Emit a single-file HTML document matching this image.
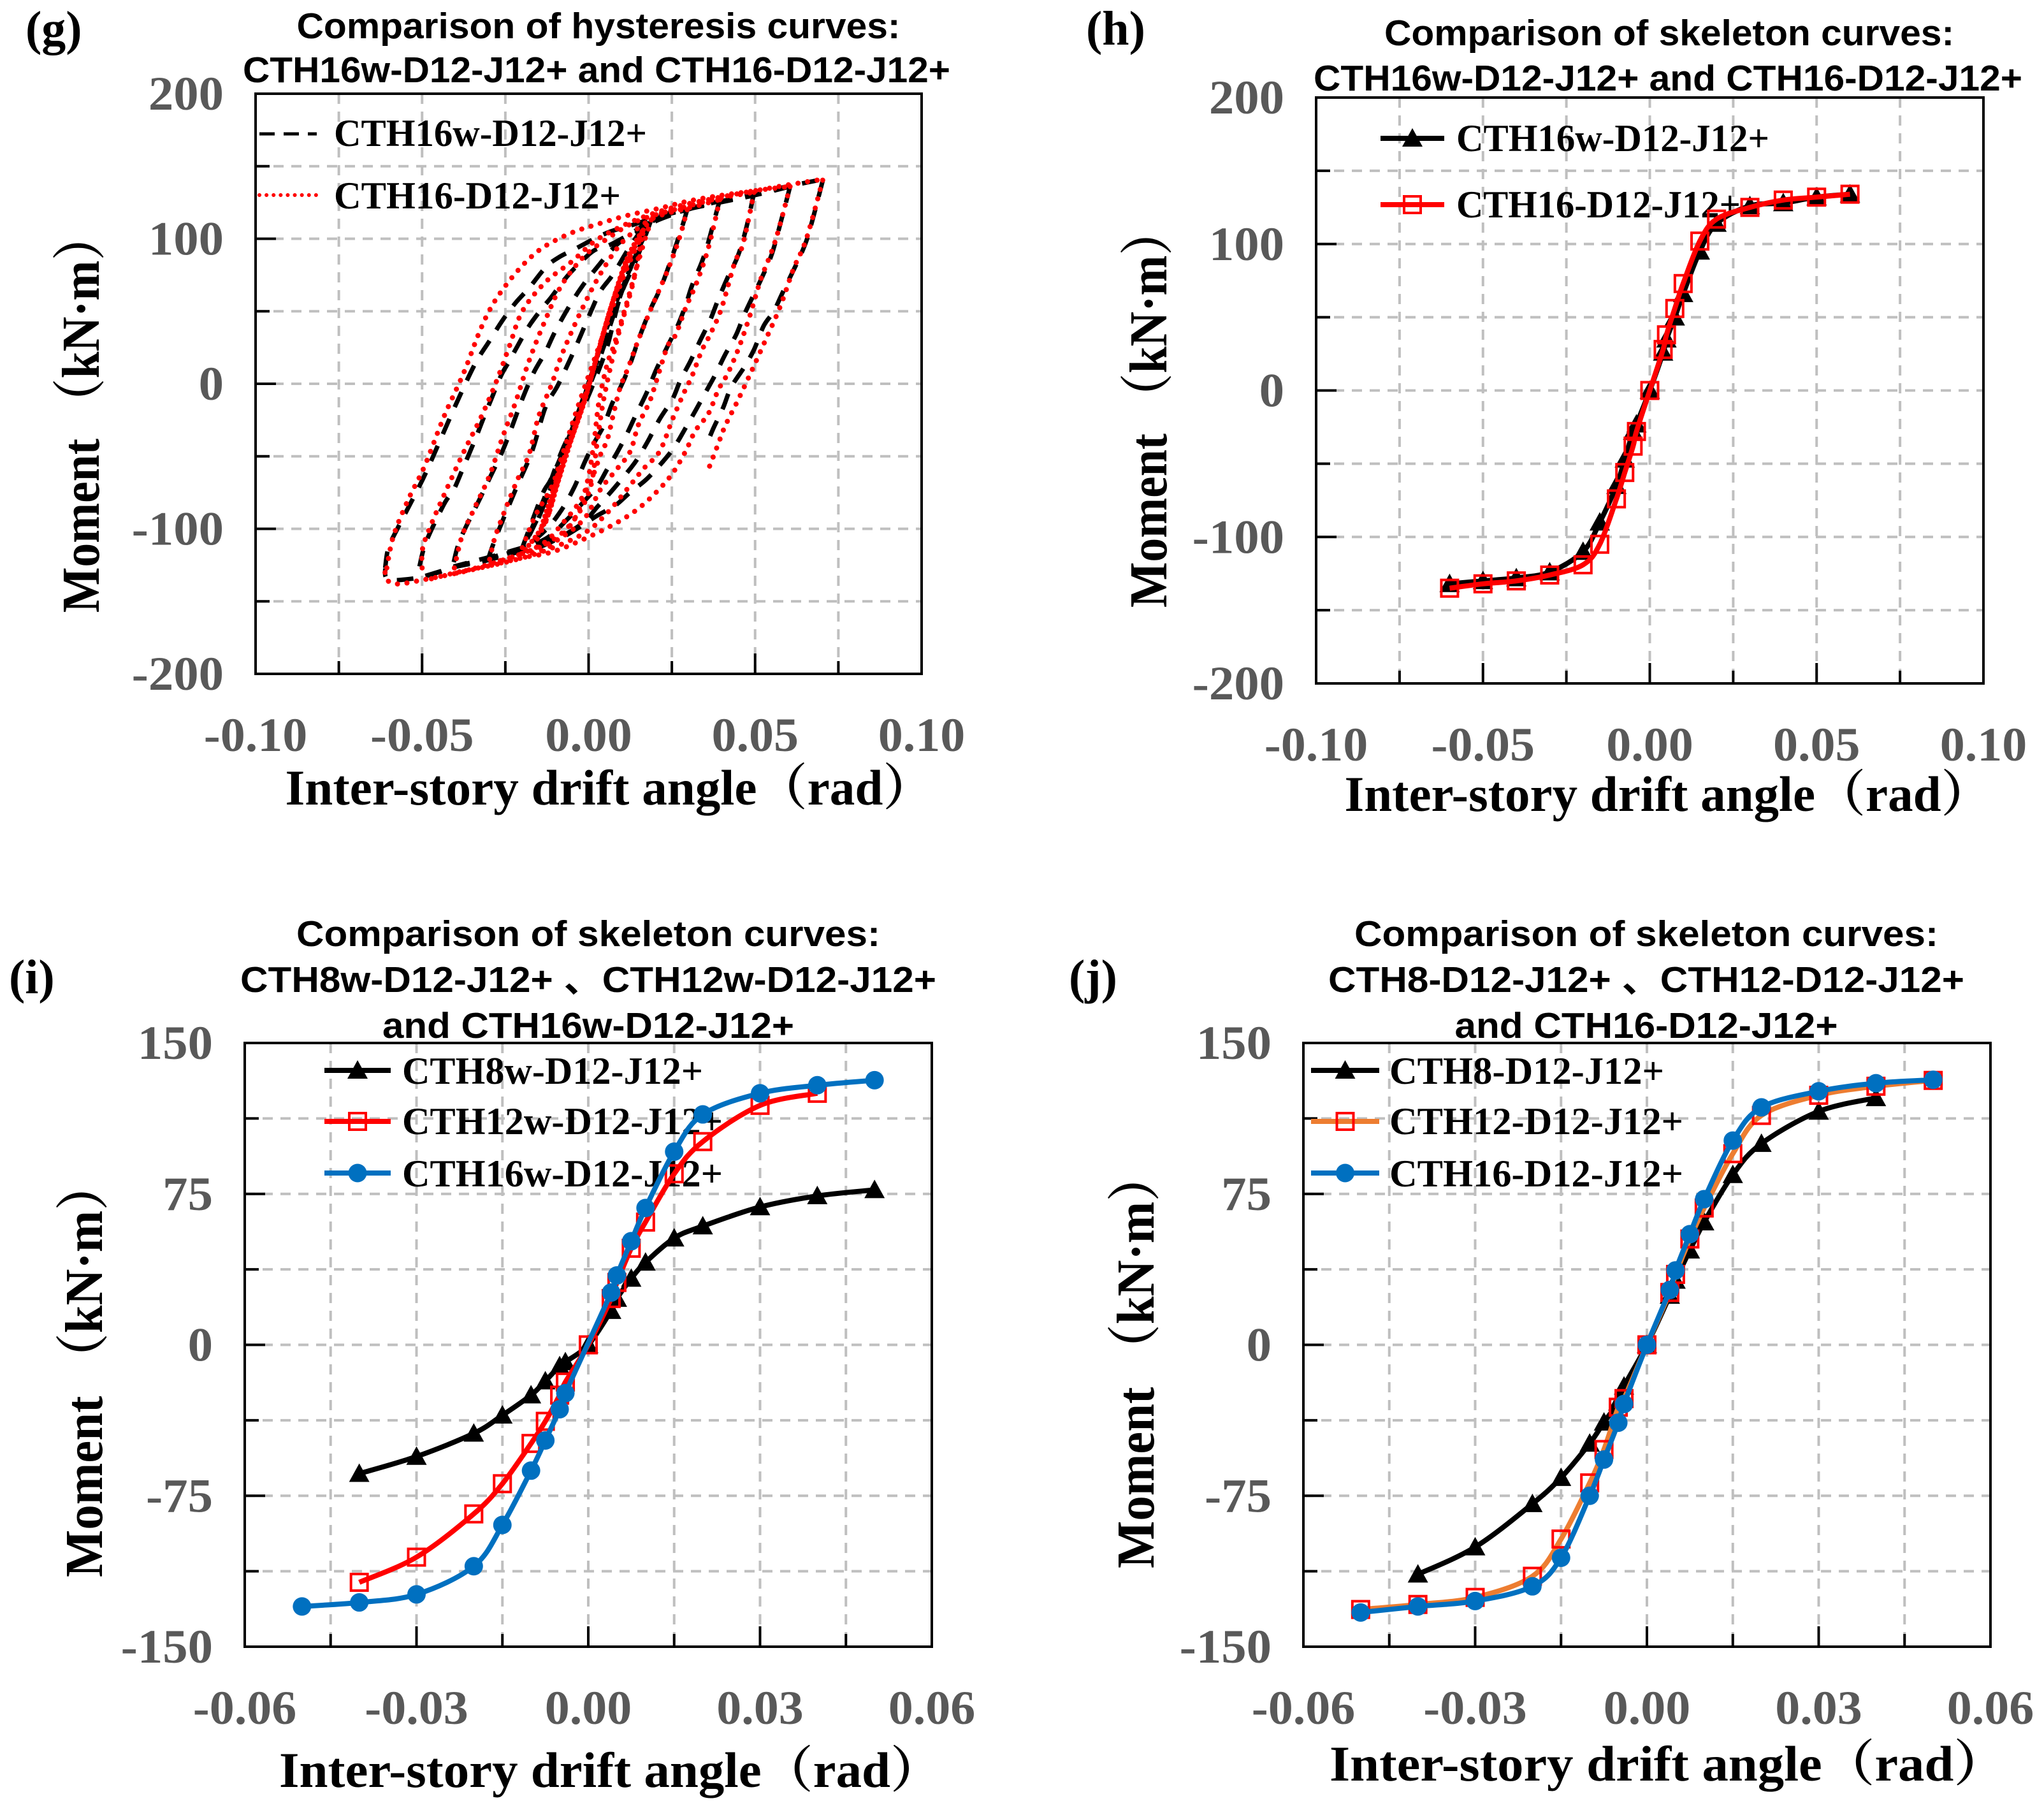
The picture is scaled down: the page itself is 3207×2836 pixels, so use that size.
<!DOCTYPE html>
<html lang="en">
<head>
<meta charset="utf-8">
<title>Comparison of hysteresis and skeleton curves</title>
<style>
html,body{margin:0;padding:0;background:#fff;}
svg{display:block;}
.serif{font-family:"Liberation Serif","Noto Serif CJK SC",serif;font-weight:bold;}
.sans{font-family:"Liberation Sans","Noto Sans CJK SC",sans-serif;font-weight:bold;}
.title{font-size:57px;text-anchor:middle;fill:#000;}
.axis-title{font-size:78px;text-anchor:middle;fill:#000;}
.y-title{font-size:84px;text-anchor:middle;fill:#000;}
.legend-text{font-size:60px;fill:#000;}
.panel-label{font-size:76px;fill:#000;}
.tick{font-size:75px;fill:#595959;}
</style>
</head>
<body>
<svg id="figure" xmlns="http://www.w3.org/2000/svg" width="3207" height="2836" viewBox="0 0 3207 2836">
<rect width="3207" height="2836" fill="#fff"/>

<g id="panel-g">
  <text class="serif panel-label" x="40" y="70">(g)</text>
  <text class="sans title" x="939" y="60" textLength="947" lengthAdjust="spacingAndGlyphs">Comparison of hysteresis curves:</text>
  <text class="sans title" x="936" y="129" textLength="1110" lengthAdjust="spacingAndGlyphs">CTH16w-D12-J12+ and CTH16-D12-J12+</text>
  <g class="axes"></g>
  <text class="serif axis-title" x="956" y="1262" textLength="1017" lengthAdjust="spacingAndGlyphs">Inter-story drift angle（rad）</text>
  <text class="serif y-title" transform="translate(155,647) rotate(-90)" textLength="628" lengthAdjust="spacingAndGlyphs">Moment （kN·m）</text>
  <line x1="407" x2="497" y1="210" y2="210" stroke="#000" stroke-width="5" stroke-dasharray="24 14"/>
  <line x1="407" x2="497" y1="306" y2="306" stroke="#f00" stroke-width="6" stroke-linecap="round" stroke-dasharray="0.1 11"/>
  <text class="serif legend-text" x="524" y="229" textLength="491" lengthAdjust="spacingAndGlyphs">CTH16w-D12-J12+</text>
  <text class="serif legend-text" x="524" y="327" textLength="450" lengthAdjust="spacingAndGlyphs">CTH16-D12-J12+</text>
  <g class="marks"></g>
</g>

<g id="panel-h">
  <text class="serif panel-label" x="1704" y="70">(h)</text>
  <text class="sans title" x="2619" y="71" textLength="894" lengthAdjust="spacingAndGlyphs">Comparison of skeleton curves:</text>
  <text class="sans title" x="2617" y="142" textLength="1112" lengthAdjust="spacingAndGlyphs">CTH16w-D12-J12+ and CTH16-D12-J12+</text>
  <g class="axes"></g>
  <text class="serif axis-title" x="2617" y="1272" textLength="1015" lengthAdjust="spacingAndGlyphs">Inter-story drift angle（rad）</text>
  <text class="serif y-title" transform="translate(1830,639) rotate(-90)" textLength="628" lengthAdjust="spacingAndGlyphs">Moment （kN·m）</text>
  <text class="serif legend-text" x="2285" y="237" textLength="491" lengthAdjust="spacingAndGlyphs">CTH16w-D12-J12+</text>
  <text class="serif legend-text" x="2285" y="341" textLength="446" lengthAdjust="spacingAndGlyphs">CTH16-D12-J12+</text>
  <g class="marks"></g>
</g>

<g id="panel-i">
  <text class="serif panel-label" x="14" y="1558">(i)</text>
  <text class="sans title" x="923" y="1484" textLength="916" lengthAdjust="spacingAndGlyphs">Comparison of skeleton curves:</text>
  <text class="sans title" x="923" y="1556" textLength="1092" lengthAdjust="spacingAndGlyphs">CTH8w-D12-J12+ 、CTH12w-D12-J12+</text>
  <text class="sans title" x="923" y="1628" textLength="646" lengthAdjust="spacingAndGlyphs">and CTH16w-D12-J12+</text>
  <g class="axes"></g>
  <text class="serif axis-title" x="958" y="2803" textLength="1040" lengthAdjust="spacingAndGlyphs">Inter-story drift angle（rad）</text>
  <text class="serif y-title" transform="translate(160,2147) rotate(-90)" textLength="654" lengthAdjust="spacingAndGlyphs">Moment （kN·m）</text>
  <text class="serif legend-text" x="631" y="1700" textLength="472" lengthAdjust="spacingAndGlyphs">CTH8w-D12-J12+</text>
  <text class="serif legend-text" x="631" y="1779" textLength="503" lengthAdjust="spacingAndGlyphs">CTH12w-D12-J12+</text>
  <text class="serif legend-text" x="631" y="1861" textLength="503" lengthAdjust="spacingAndGlyphs">CTH16w-D12-J12+</text>
  <g class="marks"></g>
</g>

<g id="panel-j">
  <text class="serif panel-label" x="1677" y="1558">(j)</text>
  <text class="sans title" x="2583" y="1484" textLength="916" lengthAdjust="spacingAndGlyphs">Comparison of skeleton curves:</text>
  <text class="sans title" x="2583" y="1556" textLength="998" lengthAdjust="spacingAndGlyphs">CTH8-D12-J12+ 、CTH12-D12-J12+</text>
  <text class="sans title" x="2583" y="1628" textLength="601" lengthAdjust="spacingAndGlyphs">and CTH16-D12-J12+</text>
  <g class="axes"></g>
  <text class="serif axis-title" x="2617" y="2793" textLength="1062" lengthAdjust="spacingAndGlyphs">Inter-story drift angle（rad）</text>
  <text class="serif y-title" transform="translate(1810,2133) rotate(-90)" textLength="654" lengthAdjust="spacingAndGlyphs">Moment （kN·m）</text>
  <text class="serif legend-text" x="2180" y="1700" textLength="431" lengthAdjust="spacingAndGlyphs">CTH8-D12-J12+</text>
  <text class="serif legend-text" x="2180" y="1779" textLength="461" lengthAdjust="spacingAndGlyphs">CTH12-D12-J12+</text>
  <text class="serif legend-text" x="2180" y="1861" textLength="461" lengthAdjust="spacingAndGlyphs">CTH16-D12-J12+</text>
  <g class="marks"></g>
</g>
</svg>

<script>
/* ---------- tick labels ---------- */
const xTicksWide = [-0.10,-0.075,-0.05,-0.025,0,0.025,0.05,0.075,0.10];
const xLabelsWide = ['-0.10',null,'-0.05',null,'0.00',null,'0.05',null,'0.10'];
const yTicksWide = [-200,-150,-100,-50,0,50,100,150,200];
const yLabelsWide = ['-200',null,'-100',null,'0',null,'100',null,'200'];
const xTicksNarrow = [-0.06,-0.045,-0.03,-0.015,0,0.015,0.03,0.045,0.06];
const xLabelsNarrow = ['-0.06',null,'-0.03',null,'0.00',null,'0.03',null,'0.06'];
const yTicksNarrow = [-150,-112.5,-75,-37.5,0,37.5,75,112.5,150];
const yLabelsNarrow = ['-150',null,'-75',null,'0',null,'75',null,'150'];

/* ---------- panel h skeleton values ---------- */
const hDrift = [-0.06,-0.05,-0.04,-0.03,-0.02,-0.015,-0.01,-0.0075,-0.005,-0.004,0,0.004,0.005,0.0075,0.01,0.015,0.02,0.03,0.04,0.05,0.06];
const hBlack = [-132,-130,-128,-124,-110,-90,-65,-47,-28,-23,0,26,35,50,66,95,114,126,128,132,134];
const hRed = [-135,-132,-130,-126,-119,-105,-74,-56,-38,-28,0,28,38,56,73,102,117,125,130,132,134];

/* ---------- panels i and j skeleton values ---------- */
const ijDrift = [-0.05,-0.04,-0.03,-0.02,-0.015,-0.01,-0.0075,-0.005,-0.004,0,0.004,0.005,0.0075,0.01,0.015,0.02,0.03,0.04,0.05];
const iBlack = [null,-64,-55.5,-44,-35,-25,-18,-10.5,-8.5,0,17,23,33,41,53,59,68.5,74,77];
const iRed = [null,-118,-105.5,-84,-69,-49,-38,-25,-18.5,0,23,31,48,61,85,101,119,125,null];
const iBlue = [-130,-128,-124,-110,-89.5,-62.5,-47.5,-32,-24,null,26,34.5,51.5,68,96,114.5,125,129,131.5];
const jBlack = [null,-114,-100.5,-79,-66,-49,-38.5,-28.5,-20.6,0,24.5,32,47,61,84.5,100,116,122.7,null];
const jOrange = [-131.5,-129,-125.5,-115,-96.5,-68.6,-52,-31,-26.7,0,26,35,52.6,68,95,114,124,128.5,131.4];
const jBlue = [-133,-130,-127.3,-120,-105.8,-75,-57,-38.7,-29.4,0,27.3,37,55,72.4,101.5,118,126,130,131.7];

/* ---------- panel g hysteresis, pairs are [drift in 0.001 rad, moment in kN*m] ---------- */
const redInner = [[-19.9,-117],[-13,-95],[-9.1,-67],[-5.2,-38.6],[-1.3,-12.5],[2.6,19.7],[6.6,51.9],[11.5,86],[16.4,106],[11,80],[6,47],[2,15],[-2,-16],[-6,-42],[-9.6,-70],[-14,-98],[-9,-62],[-4.6,-34],[-0.8,-8],[3,23],[7,55],[12,88]];
const redInnerLower = [[16.4,106],[13.4,70],[8.5,30],[4.6,-10],[2.6,-40],[0.7,-70],[-3.2,-90],[-9.1,-105],[-16,-112],[-12,-90],[-9,-60]];
const redLoops = [
 [[18.8,113],[15.4,88],[11.5,56],[7.5,25.8],[5.6,13.7],[3.1,-12.5],[1.7,-38.6],[-0.3,-66.8],[-4.2,-93],[-12.1,-113],[-19.9,-117]],
 [[-19.9,-113],[-16,-91],[-11.1,-71],[-8.1,-50.7],[-4.2,-22.5],[-0.3,3.6],[5.6,41.9],[10.5,74],[16.4,104],[19.3,114],[29.6,121]],
 [[29.6,120],[27.2,100],[23.7,78],[18.8,52],[14.9,30],[12,11.7],[9.5,-2.4],[7.5,-20.5],[5.6,-38.6],[3.6,-48.7],[0.7,-66.8],[-3.2,-83],[-8.1,-97],[-13,-109],[-19.9,-117],[-29.7,-124]],
 [[-29.7,-121],[-27.7,-103],[-21.9,-69],[-17.9,-48.7],[-15,-22.5],[-11.1,-0.4],[-8.1,19.7],[-2.3,50],[3.6,76],[9.5,96],[16.4,110],[22.3,118],[29.6,121],[39.4,127]],
 [[39.4,127],[36,94],[32.5,70],[29.1,52],[26.2,34],[23.7,25.8],[20.3,1.6],[18.3,-12.5],[14.9,-28.6],[12.5,-46.7],[8.5,-58.8],[3.6,-72.8],[-1.3,-93],[-9.1,-107],[-19.9,-117],[-30.7,-125],[-40.5,-131]],
 [[-40.3,-127],[-38,-105],[-34.1,-85],[-29.7,-63],[-25.8,-36.6],[-21.9,-12.5],[-17.9,15.7],[-13,43.9],[-8.1,68],[-1.3,88],[5.6,100],[12.5,110],[19.3,116],[29.1,122],[39.4,128],[49.7,132]],
 [[49.7,132],[46.3,96],[43.8,83],[39.9,52],[36.5,34],[34,23],[31.1,5.6],[28.6,-6.4],[25.2,-24.5],[21.3,-46.7],[16.4,-58.8],[11.5,-72.8],[5.6,-89],[-1.3,-103],[-13,-115],[-24.8,-123],[-39.5,-130],[-49.8,-136]],
 [[-50,-127],[-49.8,-113],[-46.9,-95],[-42.5,-72],[-37.5,-47],[-32.2,-22.5],[-27.7,1.6],[-23.8,25.8],[-19.9,50],[-13,70],[-5.2,84],[1.7,98],[8.5,107],[16.4,115],[26.2,122],[36,127],[49.7,133],[60.5,136]],
 [[60.5,136],[56,98],[51.7,72],[48.7,49],[45.3,26],[41.9,7.6],[38.9,-4.4],[36,-20.5],[32,-32.6],[29.1,-46.7],[25.2,-61.8],[20.3,-74.8],[14.4,-87],[7.5,-97],[-1.3,-107],[-11,-116],[-19.9,-120],[-30.7,-126],[-40.5,-131],[-49.3,-135],[-57.2,-138],[-60.6,-135],[-61.2,-127]],
 [[-60.6,-127],[-58.6,-105],[-54.2,-80],[-49.3,-57],[-43.4,-22.5],[-37.5,7.6],[-32.6,36.8],[-28.7,55],[-23.8,71],[-18.4,85],[-13,95],[-5.2,104],[2.6,110],[11.5,116],[21.3,121],[30,126],[40,130],[49.7,133],[59.5,137],[70.3,141]],
 [[70.3,140.4],[65.4,100],[61.5,79],[57.5,53],[53.1,30],[48.7,7.6],[44.8,-11.5],[40.9,-29.6],[38.9,-41.6],[36,-58.8]]
];
const blackInner = [[-18.4,-107],[-13,-77],[-8.1,-46.7],[-3.2,-22.5],[0.7,5.6],[4.6,25.8],[8.5,55.9],[14.4,90],[18.8,113],[13,82],[7.6,48],[3,15],[-1.6,-12],[-6.4,-40],[-10,-64],[-16,-98]];
const blackLoops = [
 [[18.8,113],[14.4,86],[9.5,60],[5.6,25.8],[1.7,1.6],[-1.3,-14.5],[-5.2,-30.6],[-9.1,-56.7],[-13,-80.9],[-17.9,-105],[-19.9,-113]],
 [[-19.9,-113],[-14,-76.9],[-11.1,-64.8],[-5.2,-32.6],[0.7,5.6],[6.6,45.9],[11.5,74],[16.4,100],[19.8,113],[29.6,120]],
 [[29.6,120],[27.2,102],[22.3,70],[18.3,49.9],[14.9,29.8],[12.5,13.7],[10,-0.4],[7.1,-13.5],[4.6,-28.6],[1.7,-40.6],[-1.3,-54.7],[-4.2,-70.8],[-8.1,-86.9],[-13,-101],[-19.9,-113],[-30.2,-121]],
 [[-30.2,-121],[-27.7,-105],[-21.9,-72.8],[-17,-46.7],[-13,-16.5],[-9.1,-0.4],[-4.2,23.7],[0.7,49.9],[3.6,64],[7.5,76],[13.4,98],[18.3,110],[29.6,120],[39.4,126]],
 [[39.4,127],[36,98],[34,84],[31.1,68],[29.1,53.9],[26.7,39.8],[23.7,25.8],[20.3,9.7],[17.4,-6.4],[14.4,-20.5],[11.5,-34.6],[8.5,-47.7],[5.6,-58.8],[2.6,-70.8],[-1.3,-80.9],[-6.2,-93],[-13,-107],[-22.8,-115],[-40.5,-126]],
 [[-40.5,-123],[-38.5,-107],[-32.6,-79],[-29.7,-65],[-26.3,-48.7],[-23.8,-34.6],[-19.9,-10.5],[-16.5,7.6],[-13,21.7],[-10.1,35.8],[-6.2,51.9],[-2.3,66],[1.7,78],[8.5,96],[14.4,104],[20.3,114],[29.1,120],[49.7,131]],
 [[49.7,132],[47.3,107],[44.8,88],[41.9,74],[38.9,58],[36.5,43.9],[33.5,29.8],[30.6,15.7],[27.6,2.6],[25.2,-10.5],[21.3,-24.5],[17.8,-39.6],[14.4,-52.7],[11,-62.8],[6.6,-74.8],[2.6,-84.9],[-2.3,-97],[-13,-111],[-22.8,-117],[-32.6,-123],[-39.5,-126],[-49.8,-133]],
 [[-50.8,-126],[-48.8,-109],[-43.4,-83],[-40.5,-73],[-37.5,-57],[-34.1,-38.6],[-31.7,-24.5],[-29.2,-10.5],[-26.3,5.6],[-23.8,15.7],[-21.4,25.8],[-17.9,39.8],[-14,51.9],[-11.1,60],[-7.2,72],[-3.2,82],[1.7,92],[6.6,96],[14.4,106],[20.3,115],[36,124],[49.7,130],[60.5,136]],
 [[60.5,136],[58,114],[55.1,90],[52.2,74],[49.7,62],[46.8,47.9],[44.3,33.8],[40.9,19.7],[37.9,5.6],[35,-6.4],[32.1,-18.5],[29.1,-30.6],[25.7,-43.7],[22.3,-53.7],[17.4,-65.8],[12.5,-74.8],[8,-83.9],[2.6,-90.9],[-7.2,-105],[-13,-109],[-22.8,-115],[-30.7,-121],[-38.5,-125],[-46.4,-131],[-51.8,-134],[-60.1,-135],[-61.1,-127]],
 [[-61.1,-127],[-60.1,-113],[-57.2,-99],[-51.8,-75],[-48.8,-61],[-44.9,-40.6],[-39.5,-12.5],[-34.1,13.7],[-29.7,29.8],[-25.8,43.9],[-21.9,55.9],[-17.9,66],[-13,80],[-9.1,87],[-3.2,94],[1.7,100],[6.6,105],[12.5,109],[19.3,114],[29.1,120],[39.4,125],[49.7,130],[55.6,134],[70.3,141]],
 [[70.3,140],[66.4,106],[63.9,90],[58.5,64],[55.6,50],[52.6,40],[49.7,23.7],[46.8,11.7],[42.8,-2.4],[40.4,-16.5],[37.5,-30.6],[35.5,-41.6]]
];

/* ---------- drawing ---------- */
const NS = 'http://www.w3.org/2000/svg';
function add(parent, tag, attrs) {
  const node = document.createElementNS(NS, tag);
  for (const key in attrs) node.setAttribute(key, attrs[key]);
  parent.appendChild(node);
  return node;
}
function smooth(points) {
  let d = 'M' + points[0][0].toFixed(1) + ' ' + points[0][1].toFixed(1);
  for (let i = 0; i < points.length - 1; i++) {
    const p0 = points[Math.max(i - 1, 0)], p1 = points[i], p2 = points[i + 1], p3 = points[Math.min(i + 2, points.length - 1)];
    const c1x = p1[0] + (p2[0] - p0[0]) / 6, c1y = p1[1] + (p2[1] - p0[1]) / 6;
    const c2x = p2[0] - (p3[0] - p1[0]) / 6, c2y = p2[1] - (p3[1] - p1[1]) / 6;
    d += 'C' + c1x.toFixed(1) + ' ' + c1y.toFixed(1) + ' ' + c2x.toFixed(1) + ' ' + c2y.toFixed(1) + ' ' + p2[0].toFixed(1) + ' ' + p2[1].toFixed(1);
  }
  return d;
}
function makeScales(box, xMax, yMax) {
  return {
    x: v => box.left + (v + xMax) / (2 * xMax) * (box.right - box.left),
    y: v => box.bottom - (v + yMax) / (2 * yMax) * (box.bottom - box.top)
  };
}
function stretch(node, factor) {
  const length = node.getComputedTextLength() * factor;
  node.setAttribute('textLength', length.toFixed(1));
  node.setAttribute('lengthAdjust', 'spacingAndGlyphs');
}
function drawAxes(id, box, xTicks, xLabels, yTicks, yLabels, scale) {
  const g = document.querySelector('#' + id + ' .axes');
  xTicks.forEach((tick, i) => {
    const px = scale.x(tick);
    if (i > 0 && i < xTicks.length - 1) {
      const grid = add(g, 'line', {x1: px, x2: px, y1: box.top, y2: box.bottom, stroke: '#bfbfbf', 'stroke-width': 4, 'stroke-dasharray': '16 12'});
      
      
      const mark = add(g, 'line', {x1: px, x2: px, y1: box.bottom - (xLabels[i] ? 32 : 20), y2: box.bottom, stroke: '#000', 'stroke-width': 4});
      
      
    }
    if (xLabels[i]) {
      const label = add(g, 'text', {x: px, y: box.bottom + 121, 'text-anchor': 'middle', class: 'serif tick'});
      label.textContent = xLabels[i];
      
      
      stretch(label, 1.04);
    }
  });
  yTicks.forEach((tick, i) => {
    const py = scale.y(tick);
    if (i > 0 && i < yTicks.length - 1) {
      const grid = add(g, 'line', {x1: box.left, x2: box.right, y1: py, y2: py, stroke: '#bfbfbf', 'stroke-width': 4, 'stroke-dasharray': '16 12'});
      
      
      const mark = add(g, 'line', {x1: box.left, x2: box.left + (yLabels[i] ? 32 : 22), y1: py, y2: py, stroke: '#000', 'stroke-width': 4});
      
      
    }
    if (yLabels[i]) {
      const label = add(g, 'text', {x: box.left - 50, y: py + 25, 'text-anchor': 'end', class: 'serif tick'});
      label.textContent = yLabels[i];
      
      
      stretch(label, 1.05);
    }
  });
  const frame = add(g, 'rect', {x: box.left, y: box.top, width: box.right - box.left, height: box.bottom - box.top, fill: 'none', stroke: '#000', 'stroke-width': 4});
  
  
}
function marker(parent, kind, cx, cy) {
  let node;
  if (kind === 'triangle') {
    node = add(parent, 'polygon', {points: (cx - 16) + ',' + (cy + 13) + ' ' + (cx + 16) + ',' + (cy + 13) + ' ' + cx + ',' + (cy - 16), fill: '#000'});
  } else if (kind === 'square') {
    node = add(parent, 'rect', {x: cx - 13, y: cy - 13, width: 26, height: 26, fill: 'none', stroke: '#f00', 'stroke-width': 4});
  } else {
    node = add(parent, 'circle', {cx: cx, cy: cy, r: 14.5, fill: '#0070c0'});
  }
  
  
}
function drawSeries(id, scale, drift, values, color, kind, seriesName) {
  const g = document.querySelector('#' + id + ' .marks');
  const pts = [];
  values.forEach((v, i) => { if (v !== null) pts.push([scale.x(drift[i]), scale.y(v)]); });
  const line = add(g, 'path', {d: smooth(pts), fill: 'none', stroke: color, 'stroke-width': 8, 'stroke-linejoin': 'round'});
  
  
  pts.forEach(p => marker(g, kind, p[0], p[1]));
}
function drawKey(id, x1, x2, y, color, kind) {
  const g = document.querySelector('#' + id + ' .marks');
  const line = add(g, 'line', {x1: x1, x2: x2, y1: y, y2: y, stroke: color, 'stroke-width': 8});
  
  
  marker(g, kind, (x1 + x2) / 2, y);
}
function drawLoops(g, scale, loops, style, seriesName) {
  loops.forEach(loop => {
    const pts = loop.map(p => [scale.x(p[0] / 1000), scale.y(p[1])]);
    const attrs = Object.assign({d: smooth(pts), fill: 'none'}, style);
    const path = add(g, 'path', attrs);
    
    
  });
}

/* panel g */
const boxG = {left: 401, right: 1446, top: 147, bottom: 1057};
const scaleG = makeScales(boxG, 0.1, 200);
drawAxes('panel-g', boxG, xTicksWide, xLabelsWide, yTicksWide, yLabelsWide, scaleG);
const marksG = document.querySelector('#panel-g .marks');
const blackStyle = {stroke: '#000', 'stroke-width': 7, 'stroke-dasharray': '26 20'};
const redStyle = {stroke: '#f00', 'stroke-width': 8, 'stroke-linecap': 'round', 'stroke-dasharray': '0.1 15'};
const redDense = {stroke: '#f00', 'stroke-width': 8, 'stroke-linecap': 'round', 'stroke-dasharray': '0.1 8'};
drawLoops(marksG, scaleG, [blackInner], blackStyle, 'black-inner-cycle');
drawLoops(marksG, scaleG, blackLoops, blackStyle, 'black-hysteresis-branch');
drawLoops(marksG, scaleG, [redInner], redDense, 'red-inner-cycle');
drawLoops(marksG, scaleG, [redInnerLower], redStyle, 'red-inner-lower-cycle');
drawLoops(marksG, scaleG, redLoops, redStyle, 'red-hysteresis-branch');

/* panel h */
const boxH = {left: 2065, right: 3112, top: 153, bottom: 1072};
const scaleH = makeScales(boxH, 0.1, 200);
drawAxes('panel-h', boxH, xTicksWide, xLabelsWide, yTicksWide, yLabelsWide, scaleH);
drawKey('panel-h', 2166, 2266, 217, '#000', 'triangle');
drawKey('panel-h', 2166, 2266, 321, '#f00', 'square');
drawSeries('panel-h', scaleH, hDrift, hBlack, '#000', 'triangle', 'series-cth16w');
drawSeries('panel-h', scaleH, hDrift, hRed, '#f00', 'square', 'series-cth16');

/* panel i */
const boxI = {left: 384, right: 1462, top: 1636, bottom: 2583};
const scaleI = makeScales(boxI, 0.06, 150);
drawAxes('panel-i', boxI, xTicksNarrow, xLabelsNarrow, yTicksNarrow, yLabelsNarrow, scaleI);
drawKey('panel-i', 509, 613, 1679, '#000', 'triangle');
drawKey('panel-i', 509, 613, 1759, '#f00', 'square');
drawKey('panel-i', 509, 613, 1840, '#0070c0', 'circle');
drawSeries('panel-i', scaleI, ijDrift, iBlack, '#000', 'triangle', 'series-cth8w');
drawSeries('panel-i', scaleI, ijDrift, iRed, '#f00', 'square', 'series-cth12w');
drawSeries('panel-i', scaleI, ijDrift, iBlue, '#0070c0', 'circle', 'series-cth16w');

/* panel j */
const boxJ = {left: 2045, right: 3123, top: 1636, bottom: 2583};
const scaleJ = makeScales(boxJ, 0.06, 150);
drawAxes('panel-j', boxJ, xTicksNarrow, xLabelsNarrow, yTicksNarrow, yLabelsNarrow, scaleJ);
drawKey('panel-j', 2057, 2164, 1679, '#000', 'triangle');
drawKey('panel-j', 2057, 2164, 1759, '#ed7d31', 'square');
drawKey('panel-j', 2057, 2164, 1840, '#0070c0', 'circle');
drawSeries('panel-j', scaleJ, ijDrift, jBlack, '#000', 'triangle', 'series-cth8');
drawSeries('panel-j', scaleJ, ijDrift, jOrange, '#ed7d31', 'square', 'series-cth12');
drawSeries('panel-j', scaleJ, ijDrift, jBlue, '#0070c0', 'circle', 'series-cth16');
</script>
</body>
</html>
